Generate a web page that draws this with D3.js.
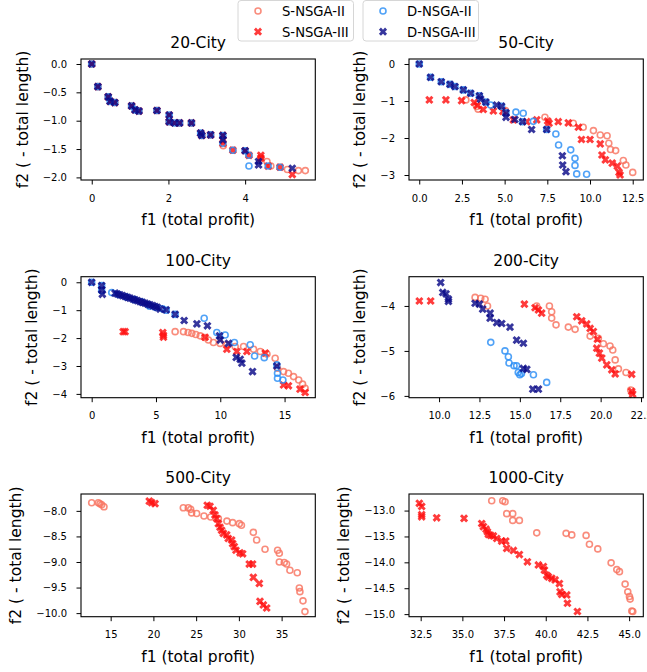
<!DOCTYPE html>
<html><head><meta charset="utf-8">
<script src="https://cdn.jsdelivr.net/npm/d3@7"></script>
<style>
body{margin:0;background:#fff}
text{font-family:"DejaVu Sans",sans-serif;fill:#000}
</style>
</head><body>
<svg id="chart" width="647" height="672"></svg>
<script>
// ---------- data ----------
const titles = ["20-City","50-City","100-City","200-City","500-City","1000-City"];
const seriesNames = ["S-NSGA-II","S-NSGA-III","D-NSGA-II","D-NSGA-III"];
const xLabel = "f1 (total profit)";
const yLabel = "f2 ( - total length)";

const xTicks = [[0,2,4],[0,2.5,5,7.5,10,12.5],[0,5,10,15],[10,12.5,15,17.5,20,22.5],[15,20,25,30,35],[32.5,35,37.5,40,42.5,45]];
const yTicks = [[0,-0.5,-1,-1.5,-2],[0,-1,-2,-3],[0,-1,-2,-3,-4],[-4,-5,-6],[-8,-8.5,-9,-9.5,-10],[-13,-13.5,-14,-14.5,-15]];
const xFormats = [".0f",".1f",".0f",".1f",".0f",".1f"];
const yFormats = [".1f",".0f",".0f",".0f",".1f",".1f"];
const xDomains = [[-0.28,5.83],[-0.6,13.12],[-0.83,17.39],[8.14,22.64],[11.53,38.94],[31.8,45.85]];
const yDomains = [[-2.046,0.088],[-3.135,0.135],[-4.136,0.2],[-6.04,-3.35],[-10.07,-7.67],[-15.05,-12.68]];

// 20-City
const s2_20 = [[0,0],[0.16,-0.4],[0.43,-0.58],[0.6,-0.68],[1.04,-0.74],[1.23,-0.83],[1.7,-0.82],[2.02,-1.02],[2.29,-1.04],[2.6,-1.04],[2.87,-1.26],[3.1,-1.25],[3.43,-1.44],[3.68,-1.52],[4.1,-1.61],[4.41,-1.66],[4.57,-1.72],[4.67,-1.8],[4.91,-1.82],[5.1,-1.86],[5.39,-1.88],[5.57,-1.88]];
const s3_20 = [[0,0],[0.16,-0.4],[0.43,-0.58],[0.48,-0.66],[0.6,-0.68],[1.04,-0.74],[1.13,-0.81],[1.23,-0.83],[1.7,-0.82],[2.02,-0.9],[2.02,-1.02],[2.16,-1.04],[2.29,-1.04],[2.6,-1.04],[2.84,-1.22],[2.87,-1.26],[3.1,-1.25],[3.42,-1.26],[3.42,-1.34],[3.42,-1.4],[3.68,-1.52],[4.0,-1.53],[4.1,-1.61],[4.41,-1.61],[4.41,-1.66],[4.6,-1.8],[4.91,-1.82],[5.23,-1.95]];
const d2_20 = [[0,0],[0.16,-0.4],[0.43,-0.58],[0.48,-0.66],[0.6,-0.68],[1.04,-0.74],[1.13,-0.81],[1.23,-0.83],[1.7,-0.82],[2.02,-0.9],[2.02,-1.02],[2.16,-1.04],[2.29,-1.04],[2.6,-1.04],[2.84,-1.22],[2.87,-1.26],[3.1,-1.25],[3.42,-1.26],[3.42,-1.4],[3.68,-1.52],[4.0,-1.53],[4.1,-1.61],[4.1,-1.8],[4.6,-1.8],[4.91,-1.82]];
const d3_20 = [[0,0],[0.16,-0.4],[0.43,-0.58],[0.48,-0.66],[0.6,-0.68],[1.04,-0.74],[1.13,-0.81],[1.23,-0.83],[1.7,-0.82],[2.02,-0.9],[2.02,-1.02],[2.16,-1.04],[2.29,-1.04],[2.6,-1.04],[2.84,-1.22],[2.87,-1.26],[3.1,-1.25],[3.42,-1.26],[3.42,-1.34],[4.0,-1.53],[4.35,-1.72],[4.35,-1.78],[5.23,-1.84]];

// 50-City
const s2_50 = [[2.73,-0.97],[3.36,-1.15],[3.45,-1.22],[5.05,-1.26],[7.36,-1.44],[9.02,-1.6],[9.6,-1.71],[10.2,-1.8],[10.6,-1.92],[11.0,-1.94],[11.1,-2.14],[11.2,-2.31],[11.5,-2.34],[11.95,-2.61],[12.1,-2.73],[12.5,-2.93]];
const s3_50 = [[0.59,-0.97],[1.56,-0.97],[2.48,-0.99],[3.22,-1.04],[3.4,-1.12],[3.75,-1.23],[4.34,-1.27],[4.9,-1.28],[5.51,-1.51],[6.29,-1.56],[6.88,-1.51],[7.52,-1.54],[7.6,-1.6],[8.14,-1.56],[8.73,-1.59],[9.32,-1.71],[9.5,-2.04],[10.0,-2.04],[10.6,-2.16],[10.7,-2.46],[10.9,-2.59],[11.3,-2.68],[11.6,-2.76],[11.7,-2.93],[11.76,-3.0]];
const d2_50 = [[0,0],[0.66,-0.36],[1.29,-0.48],[1.8,-0.55],[2.09,-0.61],[2.58,-0.7],[3.01,-0.79],[3.52,-0.86],[3.9,-1.03],[4.18,-1.11],[4.82,-1.14],[5.08,-1.32],[5.66,-1.3],[6.09,-1.33],[6.05,-1.56],[6.68,-1.55],[7.46,-1.77],[8.0,-1.89],[8.16,-2.19],[8.87,-2.32],[9.12,-2.55],[9.12,-2.74],[9.22,-2.97],[9.8,-2.98]];
const d3_50 = [[0,0],[0.66,-0.36],[1.29,-0.48],[1.8,-0.55],[2.09,-0.61],[2.58,-0.7],[3.01,-0.79],[3.52,-0.86],[3.59,-0.95],[3.9,-1.03],[4.53,-1.11],[4.82,-1.14],[5.08,-1.32],[5.08,-1.44],[5.6,-1.5],[6.05,-1.56],[6.58,-1.77],[7.46,-1.77],[8.38,-2.48],[8.4,-2.73],[8.59,-2.91]];

// 100-City
const s2_100 = [[6.49,-1.77],[7.14,-1.77],[7.5,-1.8],[7.79,-1.83],[8.1,-1.87],[8.44,-1.92],[8.8,-1.98],[9.08,-2.07],[9.47,-2.16],[9.99,-2.19],[10.51,-2.24],[11.16,-2.3],[11.81,-2.3],[12.59,-2.4],[13.11,-2.48],[13.63,-2.57],[14.27,-2.72],[14.45,-3.08],[14.92,-3.2],[15.3,-3.26],[15.7,-3.38],[16.1,-3.5],[16.4,-3.65],[16.6,-3.8]];
const s3_100 = [[2.45,-1.77],[2.6,-1.77],[5.53,-1.8],[5.58,-1.9],[5.58,-1.97],[8.82,-1.97],[10.51,-2.4],[11.29,-2.48],[12.07,-2.48],[13.5,-2.54],[14.92,-3.68],[15.3,-3.71],[16.2,-3.83],[16.6,-3.95]];
const d2_100 = [[0,0],[0.78,-0.12],[0.78,-0.3],[1.56,-0.37],[2.1,-0.44],[2.7,-0.53],[3.3,-0.62],[3.9,-0.71],[4.4,-0.8],[4.5,-0.86],[5.0,-0.9],[5.5,-0.95],[5.8,-1.0],[6.49,-1.15],[8.75,-1.29],[9.73,-1.8],[10.38,-1.89],[11.1,-2.16],[12.33,-2.24],[12.67,-2.64],[13.42,-2.7],[14.4,-2.96],[14.45,-3.26],[14.45,-3.44],[14.87,-3.5]];
const d3_100 = [[0,0],[0.78,-0.12],[0.78,-0.27],[0.83,-0.43],[1.82,-0.39],[2.0,-0.42],[2.2,-0.45],[2.4,-0.48],[2.6,-0.51],[2.8,-0.54],[2.98,-0.57],[3.2,-0.6],[3.37,-0.63],[3.56,-0.66],[3.76,-0.69],[3.95,-0.72],[4.15,-0.75],[4.35,-0.78],[4.54,-0.81],[4.75,-0.84],[4.93,-0.87],[5.1,-0.9],[5.32,-0.96],[5.79,-0.99],[6.49,-1.15],[7.19,-1.37],[8.18,-1.49],[9.0,-1.56],[9.94,-1.92],[10.0,-2.07],[10.64,-2.19],[11.24,-2.69],[11.55,-2.76],[11.68,-2.9],[12.51,-3.2],[14.4,-3.0]];

// 200-City
const s2_200 = [[12.23,-3.81],[12.58,-3.83],[12.85,-3.85],[13.0,-4.0],[16.04,-4.0],[16.83,-4.0],[16.97,-4.13],[16.97,-4.27],[17.24,-4.42],[18.0,-4.47],[18.42,-4.52],[19.35,-4.67],[19.86,-4.72],[20.17,-4.84],[20.58,-4.89],[20.75,-4.98],[20.9,-5.2],[21.1,-5.4],[21.57,-5.48],[21.86,-5.87]];
const s3_200 = [[8.78,-3.89],[9.48,-3.89],[15.28,-3.96],[15.94,-4.04],[16.15,-4.09],[16.35,-4.16],[18.52,-4.24],[18.83,-4.33],[19.14,-4.4],[19.35,-4.5],[19.55,-4.57],[19.8,-4.74],[19.76,-4.94],[19.92,-5.05],[20.07,-5.16],[20.38,-5.31],[20.69,-5.42],[20.9,-5.51],[21.92,-5.52],[21.92,-5.9],[21.98,-5.96]];
const d2_200 = [[13.2,-4.81],[14.08,-5.0],[14.29,-5.13],[14.33,-5.27],[14.64,-5.33],[14.8,-5.33],[14.9,-5.48],[15.0,-5.53],[15.1,-5.5],[15.84,-5.53],[16.66,-5.7]];
const d3_200 = [[10.1,-3.48],[10.23,-3.7],[10.43,-3.73],[10.58,-3.85],[10.58,-3.9],[12.23,-3.94],[12.5,-3.96],[12.7,-4.07],[13.16,-4.16],[13.16,-4.27],[13.57,-4.37],[13.88,-4.39],[14.39,-4.47],[14.8,-4.76],[15.22,-4.83],[15.22,-5.39],[15.43,-5.41],[15.8,-5.85],[16.15,-5.85]];

// 500-City
const s2_500 = [[12.78,-7.84],[13.56,-7.84],[13.75,-7.86],[13.95,-7.88],[14.22,-7.92],[23.5,-7.94],[24.08,-7.94],[24.36,-7.97],[24.47,-8.04],[25.06,-8.05],[25.92,-8.1],[26.7,-8.12],[27.6,-8.15],[28.6,-8.2],[29.27,-8.23],[30.05,-8.25],[30.3,-8.28],[31.69,-8.42],[32.08,-8.57],[33.06,-8.75],[34.53,-8.77],[34.73,-8.83],[34.73,-9.0],[35.31,-9.01],[35.58,-9.04],[35.97,-9.16],[36.83,-9.21],[37.07,-9.51],[37.14,-9.58],[37.5,-9.76],[37.73,-9.97]];
const s3_500 = [[19.52,-7.81],[19.8,-7.84],[20.19,-7.86],[26.3,-7.89],[26.62,-7.91],[27.0,-7.99],[27.2,-8.08],[27.4,-8.15],[27.6,-8.25],[27.79,-8.32],[27.98,-8.38],[28.18,-8.44],[28.57,-8.47],[28.76,-8.54],[29.15,-8.57],[29.27,-8.64],[29.46,-8.7],[29.66,-8.77],[30.13,-8.82],[30.44,-8.84],[31.22,-9.04],[31.6,-9.04],[31.69,-9.3],[32.39,-9.42],[32.47,-9.77],[32.86,-9.84],[33.25,-9.9]];
const d2_500 = [];
const d3_500 = [];

// 1000-City
const s2_1000 = [[36.76,-12.81],[37.42,-12.81],[37.56,-12.83],[37.66,-13.06],[38.02,-13.06],[38.02,-13.19],[38.42,-13.19],[39.46,-13.43],[41.22,-13.44],[41.56,-13.47],[42.42,-13.48],[42.62,-13.65],[43.12,-13.74],[43.92,-14.01],[44.26,-14.14],[44.42,-14.18],[44.76,-14.42],[44.92,-14.57],[45.02,-14.66],[45.06,-14.71],[45.16,-14.94],[45.22,-14.95]];
const s3_1000 = [[32.42,-12.86],[32.56,-12.92],[32.56,-13.08],[32.56,-13.12],[33.46,-13.14],[35.1,-13.15],[36.16,-13.25],[36.26,-13.31],[36.42,-13.36],[36.5,-13.41],[36.56,-13.46],[36.7,-13.48],[36.86,-13.49],[37.06,-13.54],[37.36,-13.59],[37.6,-13.59],[37.66,-13.73],[38.06,-13.77],[38.42,-13.85],[38.9,-13.99],[39.56,-14.05],[39.86,-14.08],[39.92,-14.15],[40.06,-14.25],[40.16,-14.28],[40.36,-14.31],[40.56,-14.34],[40.82,-14.41],[40.86,-14.57],[40.96,-14.62],[41.26,-14.63],[41.3,-14.79],[41.9,-14.95]];
const d2_1000 = [];
const d3_1000 = [];

const panelData = [
  [s2_20, s3_20, d2_20, d3_20],
  [s2_50, s3_50, d2_50, d3_50],
  [s2_100, s3_100, d2_100, d3_100],
  [s2_200, s3_200, d2_200, d3_200],
  [s2_500, s3_500, d2_500, d3_500],
  [s2_1000, s3_1000, d2_1000, d3_1000]
];

// ---------- style ----------
const colors = ["#f8735f", "#ff1010", "#2a8ef5", "#0a0a88"];
const shapes = ["circle", "x", "circle", "x"];
const opac = 0.82;

const colLeft = [81, 409], plotW = 234.3;
const rowTop = [59, 276.7, 494], plotH = [121, 121, 122.7];
const tickLen = 4.5, yTickPad = 9.5, yLabelGap = 15;

const svg = d3.select("#chart");
const crossPath = d3.symbol(d3.symbolCross, 42)();

function drawMarker(g, shape, color, x, y) {
  if (shape === "circle") {
    g.append("circle").attr("cx", x).attr("cy", y).attr("r", 3)
      .attr("fill", "none").attr("stroke", color).attr("stroke-width", 1.6)
      .attr("opacity", opac);
  } else {
    g.append("path").attr("d", crossPath)
      .attr("transform", `translate(${x},${y}) rotate(45)`)
      .attr("fill", color).attr("opacity", opac);
  }
}

titles.forEach((t, i) => {
  const col = i % 2, row = Math.floor(i / 2);
  const L = colLeft[col], T = rowTop[row], H = plotH[row];
  const x = d3.scaleLinear().domain(xDomains[i]).range([L, L + plotW]);
  const y = d3.scaleLinear().domain(yDomains[i]).range([T + H, T]);
  const g = svg.append("g");

  // points
  panelData[i].forEach((ser, si) => {
    const sg = g.append("g");
    ser.forEach(d => drawMarker(sg, shapes[si], colors[si], x(d[0]), y(d[1])));
  });

  // axes
  const fmtMinus = f => v => d3.format(f)(v).replace("-", "\u2212");
  const xa = g.append("g").attr("transform", `translate(0,${T + H})`)
    .call(d3.axisBottom(x).tickValues(xTicks[i]).tickFormat(fmtMinus(xFormats[i])).tickSize(tickLen).tickPadding(10).tickSizeOuter(0));
  const ya = g.append("g").attr("transform", `translate(${L},0)`)
    .call(d3.axisLeft(y).tickValues(yTicks[i]).tickFormat(fmtMinus(yFormats[i])).tickSize(tickLen).tickPadding(yTickPad).tickSizeOuter(0));
  [xa, ya].forEach(a => {
    a.select(".domain").remove();
    a.selectAll("line").attr("stroke", "#000").attr("stroke-width", 1);
    a.selectAll("text").attr("font-size", 10).attr("font-family", "DejaVu Sans").attr("fill", "#000");
  });

  // frame
  g.append("rect").attr("x", L).attr("y", T).attr("width", plotW).attr("height", H)
    .attr("fill", "none").attr("stroke", "#000").attr("stroke-width", 1.1);

  // title
  g.append("text").attr("x", L + plotW / 2).attr("y", T - 11)
    .attr("text-anchor", "middle").attr("font-size", 15.5).text(t);
  // x label
  g.append("text").attr("x", L + plotW / 2).attr("y", T + H + 45)
    .attr("text-anchor", "middle").attr("font-size", 15.5).text(xLabel);
  // y label, placed left of the widest tick label (as matplotlib does)
  let maxW = 0;
  ya.selectAll("text").each(function () { maxW = Math.max(maxW, this.getBBox().width); });
  const ylx = L - tickLen - yTickPad - maxW - yLabelGap;
  g.append("text").attr("transform", `translate(${ylx},${T + H / 2}) rotate(-90)`)
    .attr("text-anchor", "middle").attr("font-size", 15.5).text(yLabel);
});

// ---------- legends ----------
const legendBoxes = [{x: 238, names: [0, 1]}, {x: 363, names: [2, 3]}];
legendBoxes.forEach(b => {
  const lg = svg.append("g");
  lg.append("rect").attr("x", b.x).attr("y", 0.5).attr("width", 115.5).attr("height", 40.5)
    .attr("rx", 3).attr("fill", "#fff").attr("fill-opacity", 0.8)
    .attr("stroke", "#d6d6d6").attr("stroke-width", 1);
  b.names.forEach((si, k) => {
    const cy = 11 + k * 20.7;
    drawMarker(lg, shapes[si], colors[si], b.x + 20, cy);
    lg.append("text").attr("x", b.x + 44).attr("y", cy + 4.8)
      .attr("font-size", 13.2).text(seriesNames[si]);
  });
});
</script>
</body></html>
